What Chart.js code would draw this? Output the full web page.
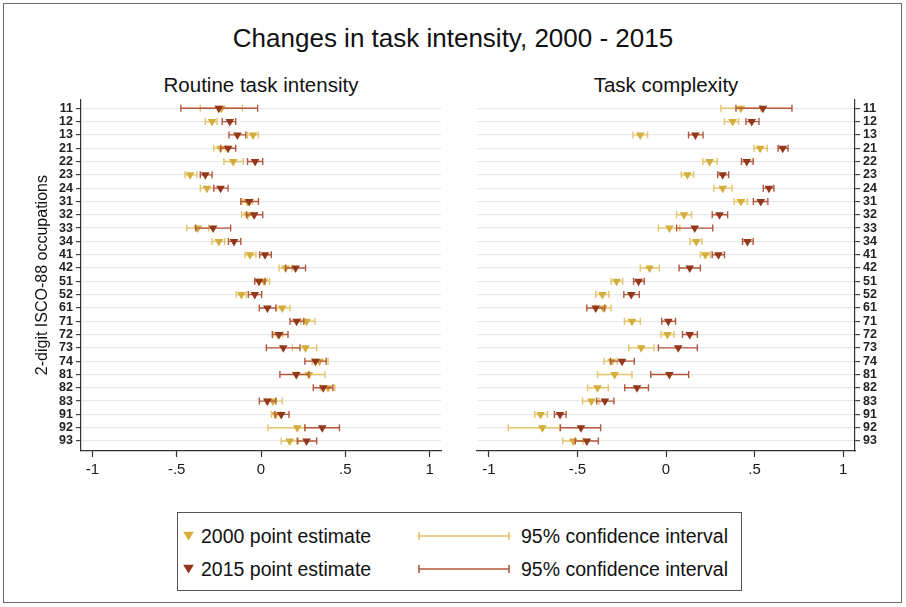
<!DOCTYPE html>
<html>
<head>
<meta charset="utf-8">
<script src="https://cdn.jsdelivr.net/npm/chart.js@4.4.1/dist/chart.umd.min.js"></script>
<style>
    body { margin: 0; background: #fff; font-family: "Liberation Sans", Arial, sans-serif; color: #111; }
    #page { position: relative; width: 906px; height: 607px; overflow: hidden; background: #fff; }
    #frame { position: absolute; left: 3px; top: 3px; width: 897px; height: 598px; border: 1.5px solid #6b6b6b; }
    .txt { position: absolute; white-space: nowrap; transform: translate(-50%, -50%); }
    canvas { position: absolute; }
    #legend { position: absolute; left: 177px; top: 512px; width: 563px; height: 77px; border: 1.5px solid #555; }
    #legend .item { position: absolute; white-space: nowrap; font-size: 19.5px; transform: translateY(-50%); }
    #legend svg { position: absolute; transform: translateY(-50%); }
</style>
</head>
<body>
<div id="page">
    <div id="frame"></div>
    <div class="txt" style="left:453px; top:38px; font-size:26px;">Changes in task intensity, 2000 - 2015</div>
    <div class="txt" style="left:261px; top:85px; font-size:20.5px;">Routine task intensity</div>
    <div class="txt" style="left:666px; top:85px; font-size:20.5px;">Task complexity</div>
    <canvas id="rti" width="452" height="400" style="left:0px; top:90px;"></canvas>
    <canvas id="tc" width="438" height="400" style="left:468px; top:90px;"></canvas>
    <div id="legend">
        <svg style="left:5px; top:23px;" width="11" height="9"><polygon points="0,0 11,0 5.5,9" fill="#d4ad3a"/></svg>
        <div class="item" style="left:23px; top:23px;">2000 point estimate</div>
        <svg style="left:240px; top:23px;" width="92" height="10"><path d="M1 5H91M1 1V9M91 1V9" stroke="#e3c46a" stroke-width="1.6" fill="none"/></svg>
        <div class="item" style="left:343px; top:23px;">95% confidence interval</div>
        <svg style="left:5px; top:56px;" width="11" height="9"><polygon points="0,0 11,0 5.5,9" fill="#94361a"/></svg>
        <div class="item" style="left:23px; top:56px;">2015 point estimate</div>
        <svg style="left:240px; top:56px;" width="92" height="10"><path d="M1 5H91M1 1V9M91 1V9" stroke="#b5573c" stroke-width="1.6" fill="none"/></svg>
        <div class="item" style="left:343px; top:56px;">95% confidence interval</div>
    </div>
</div>
<script>
// 2-digit ISCO-88 occupation codes, top to bottom
const occupations = ["11", "12", "13", "21", "22", "23", "24", "31", "32", "33", "34", "41", "42",
    "51", "52", "61", "71", "72", "73", "74", "81", "82", "83", "91", "92", "93"];

// routine task intensity: point estimates and 95% CI bounds
const rti2000 = [-0.235, -0.29, -0.047, -0.24, -0.165, -0.42, -0.32, -0.08, -0.08, -0.375, -0.25, -0.065, 0.146,
    0.018, -0.116, 0.126, 0.27, 0.10, 0.264, 0.347, 0.284, 0.398, 0.071, 0.087, 0.215, 0.17];
const rti2000Lo = [-0.36, -0.33, -0.08, -0.28, -0.22, -0.45, -0.36, -0.11, -0.115, -0.44, -0.29, -0.095, 0.107,
    -0.012, -0.147, 0.093, 0.235, 0.07, 0.186, 0.304, 0.215, 0.353, 0.028, 0.062, 0.041, 0.12];
const rti2000Hi = [-0.11, -0.26, -0.015, -0.21, -0.105, -0.38, -0.28, -0.05, -0.05, -0.31, -0.215, -0.03, 0.185,
    0.051, -0.086, 0.172, 0.32, 0.13, 0.33, 0.398, 0.379, 0.438, 0.126, 0.116, 0.26, 0.222];
const rti2015 = [-0.25, -0.185, -0.14, -0.195, -0.035, -0.33, -0.24, -0.07, -0.04, -0.284, -0.16, 0.024, 0.205,
    -0.012, -0.037, 0.038, 0.211, 0.107, 0.132, 0.323, 0.209, 0.369, 0.038, 0.12, 0.363, 0.27];
const rti2015Lo = [-0.475, -0.23, -0.19, -0.239, -0.08, -0.36, -0.28, -0.12, -0.085, -0.387, -0.193, -0.008, 0.146,
    -0.037, -0.075, -0.01, 0.172, 0.067, 0.032, 0.26, 0.112, 0.31, -0.01, 0.083, 0.26, 0.215];
const rti2015Hi = [-0.02, -0.15, -0.09, -0.15, 0.01, -0.29, -0.195, -0.015, 0.01, -0.18, -0.12, 0.061, 0.264,
    0.024, 0.004, 0.088, 0.254, 0.16, 0.231, 0.386, 0.284, 0.426, 0.088, 0.166, 0.465, 0.33];

// task complexity: point estimates and 95% CI bounds
const tc2000 = [0.423, 0.376, -0.145, 0.531, 0.246, 0.121, 0.32, 0.423, 0.102, 0.019, 0.171, 0.222, -0.093,
    -0.279, -0.359, -0.354, -0.192, 0.008, -0.14, -0.307, -0.29, -0.387, -0.421, -0.708, -0.698, -0.523];
const tc2000Lo = [0.31, 0.33, -0.186, 0.497, 0.208, 0.087, 0.27, 0.385, 0.06, -0.043, 0.136, 0.194, -0.145,
    -0.31, -0.397, -0.397, -0.235, -0.028, -0.21, -0.35, -0.387, -0.443, -0.471, -0.741, -0.89, -0.583];
const tc2000Hi = [0.535, 0.41, -0.104, 0.572, 0.289, 0.156, 0.373, 0.46, 0.144, 0.078, 0.203, 0.25, -0.037,
    -0.245, -0.323, -0.31, -0.145, 0.045, -0.067, -0.276, -0.192, -0.326, -0.378, -0.67, -0.60, -0.468];
const tc2015 = [0.547, 0.484, 0.166, 0.659, 0.456, 0.32, 0.581, 0.535, 0.302, 0.162, 0.46, 0.296, 0.134,
    -0.155, -0.196, -0.397, 0.013, 0.134, 0.069, -0.248, 0.019, -0.164, -0.345, -0.598, -0.48, -0.447];
const tc2015Lo = [0.395, 0.451, 0.127, 0.633, 0.426, 0.292, 0.549, 0.493, 0.261, 0.06, 0.432, 0.261, 0.074,
    -0.183, -0.238, -0.447, -0.024, 0.093, -0.043, -0.313, -0.086, -0.233, -0.391, -0.63, -0.596, -0.512];
const tc2015Hi = [0.711, 0.525, 0.209, 0.689, 0.492, 0.354, 0.609, 0.575, 0.348, 0.264, 0.492, 0.33, 0.194,
    -0.123, -0.151, -0.346, 0.054, 0.177, 0.177, -0.179, 0.128, -0.099, -0.294, -0.564, -0.369, -0.382];

const xTicks = [-1, -0.5, 0, 0.5, 1];
const xTickLabels = ["-1", "-.5", "0", ".5", "1"];

const gold = "#d4ad3a";
const goldCi = "#e3c46a";
const rust = "#94361a";
const rustCi = "#b5573c";

// horizontal confidence interval with end caps, drawn under each dataset's markers
const ciBars = {
    id: "ciBars",
    beforeDatasetDraw(chart, args) {
        const ds = chart.data.datasets[args.index];
        const { x, y } = chart.scales;
        const ctx = chart.ctx;
        ctx.save();
        ctx.strokeStyle = ds.ciColor;
        ctx.lineWidth = 1.4;
        ds.ciLow.forEach((lo, i) => {
            const py = y.getPixelForValue(i);
            const x0 = x.getPixelForValue(lo);
            const x1 = x.getPixelForValue(ds.ciHigh[i]);
            ctx.beginPath();
            ctx.moveTo(x0, py);
            ctx.lineTo(x1, py);
            ctx.moveTo(x0, py - 3.5);
            ctx.lineTo(x0, py + 3.5);
            ctx.moveTo(x1, py - 3.5);
            ctx.lineTo(x1, py + 3.5);
            ctx.stroke();
        });
        ctx.restore();
    },
};

const series = (label, est, lo, hi, color, ciColor, order) => ({
    label: label,
    data: est.map((v, i) => ({ x: v, y: i })),
    ciLow: lo,
    ciHigh: hi,
    ciColor: ciColor,
    order: order,
    pointStyle: "triangle",
    rotation: 180,
    pointRadius: 5,
    pointBorderWidth: 0,
    backgroundColor: color,
    borderColor: color,
});

const make_panel = (canvas_id, side, datasets, padding, axisWidth) => {
    const ctx = document.getElementById(canvas_id).getContext("2d");
    return new Chart(ctx, {
        type: "scatter",
        data: { datasets: datasets },
        plugins: [ciBars],
        options: {
            responsive: false,
            animation: false,
            devicePixelRatio: 1,
            layout: { padding: padding },
            plugins: { legend: { display: false }, tooltip: { enabled: false } },
            scales: {
                x: {
                    type: "linear",
                    min: -1.067,
                    max: 1.067,
                    afterBuildTicks: (axis) => {
                        axis.ticks = xTicks.map((v) => ({ value: v }));
                    },
                    afterFit: (axis) => {
                        axis.height = 39;
                    },
                    ticks: {
                        callback: (v) => xTickLabels[xTicks.indexOf(v)],
                        color: "#1a1a1a",
                        font: { family: "Liberation Sans", size: 15 },
                        padding: 4,
                        maxRotation: 0,
                    },
                    grid: { drawOnChartArea: false, tickLength: 6, tickColor: "#333", tickWidth: 1.2 },
                    border: { color: "#333", width: 1.2 },
                },
                y: {
                    type: "linear",
                    position: side,
                    reverse: true,
                    min: -0.68,
                    max: 25.75,
                    afterBuildTicks: (axis) => {
                        axis.ticks = occupations.map((_, i) => ({ value: i }));
                    },
                    afterFit: (axis) => {
                        axis.width = axisWidth;
                    },
                    ticks: {
                        callback: (v) => occupations[v],
                        autoSkip: false,
                        color: "#222",
                        font: { family: "Liberation Sans", size: 12.5, weight: "bold", lineHeight: 1 },
                        padding: 3,
                    },
                    grid: { color: "#e2eaf0", lineWidth: 1.2, tickLength: 5, tickColor: "#444" },
                    border: { color: "#333", width: 1.2 },
                    title: {
                        display: side === "left",
                        text: "2-digit ISCO-88 occupations",
                        color: "#111",
                        font: { family: "Liberation Sans", size: 16 },
                        padding: { top: 33, bottom: 0 },
                    },
                },
            },
        },
    });
};

make_panel("rti", "left", [
    series("2000 point estimate", rti2000, rti2000Lo, rti2000Hi, gold, goldCi, 1),
    series("2015 point estimate", rti2015, rti2015Lo, rti2015Hi, rust, rustCi, 0),
], { top: 9, right: 11, left: 0, bottom: 0 }, 81);

make_panel("tc", "right", [
    series("2000 point estimate", tc2000, tc2000Lo, tc2000Hi, gold, goldCi, 1),
    series("2015 point estimate", tc2015, tc2015Lo, tc2015Hi, rust, rustCi, 0),
], { top: 9, right: 0, left: 9, bottom: 0 }, 51);
</script>
</body>
</html>
